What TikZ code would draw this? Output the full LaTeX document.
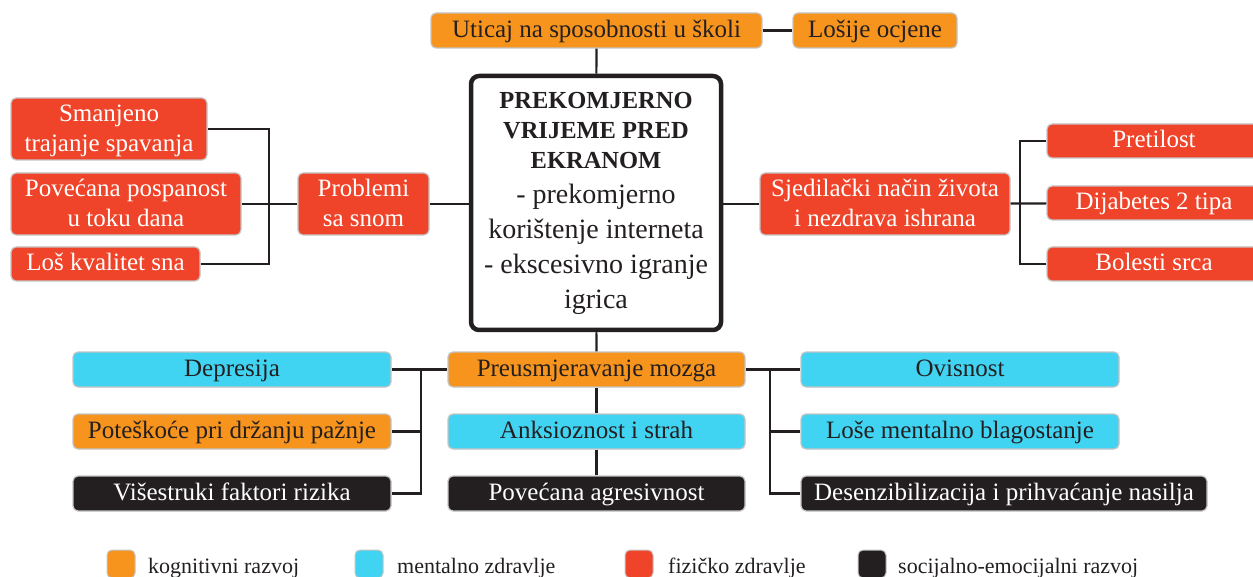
\documentclass[tikz,border=0pt]{standalone}
\usepackage{fontspec}
\setmainfont{Liberation Serif}
\usepackage{xcolor}
\definecolor{kogOrange}{HTML}{F7941D}
\definecolor{mentCyan}{HTML}{41D3F2}
\definecolor{fizRed}{HTML}{EF4429}
\definecolor{socBlack}{HTML}{231F20}
\definecolor{rimGray}{HTML}{C4C4C4}
\tikzset{
  box/.style={draw=rimGray, line width=1.2pt, rounded corners=5pt, align=center, inner sep=0pt, font=\fontsize{25}{30}\selectfont},
  flat/.style={text height=19pt, text depth=5.5pt},
  twoline/.style={text height=52pt, text depth=6pt},
  kog/.style={box, fill=kogOrange, text=socBlack},
  ment/.style={box, fill=mentCyan, text=socBlack},
  fiz/.style={box, fill=fizRed, text=white},
  soc/.style={box, fill=socBlack, text=white},
  core/.style={draw=socBlack, line width=4.5pt, rounded corners=8pt, fill=white, align=center, inner sep=0pt, text=socBlack, font=\fontsize{28}{35}\selectfont},
  link/.style={draw=socBlack, line width=2.2pt},
  swatch/.style={draw=rimGray, line width=1pt, rounded corners=5pt, minimum width=28pt, minimum height=28pt, inner sep=0pt},
  legendtext/.style={anchor=west, inner sep=0pt, text=socBlack, font=\fontsize{22}{26}\selectfont}
}

\begin{document}
\begin{tikzpicture}[x=1pt, y=-1pt]
            \useasboundingbox (0,0) rectangle (1253,577);
            \node[core, minimum width=250pt, minimum height=254pt] (ekran) at (596,203) {{\bfseries\fontsize{24.5}{29}\selectfont PREKOMJERNO}\\[-5pt]{\bfseries\fontsize{24.5}{29}\selectfont VRIJEME PRED}\\[-5pt]{\bfseries\fontsize{24.5}{29}\selectfont EKRANOM}\\- prekomjerno\\korištenje interneta\\- ekscesivno igranje\\igrica};
            \node[kog, flat, minimum width=331pt, minimum height=35pt] (uticaj) at (596.5,30.5) {Uticaj na sposobnosti u školi};
            \node[kog, flat, minimum width=164pt, minimum height=35pt] (ocjene) at (875,30.5) {Lošije ocjene};
            \node[fiz, twoline, minimum width=131pt, minimum height=62pt] (snom) at (363.5,204) {Problemi\\sa snom};
            \node[fiz, twoline, minimum width=196pt, minimum height=62pt] (trajanje) at (109,129) {Smanjeno\\trajanje spavanja};
            \node[fiz, twoline, minimum width=230pt, minimum height=62pt] (pospanost) at (126,204) {Povećana pospanost\\u toku dana};
            \node[fiz, flat, minimum width=189pt, minimum height=34pt] (kvalitet) at (105.5,264) {Loš kvalitet sna};
            \node[fiz, twoline, minimum width=250pt, minimum height=62pt] (ishrana) at (885,204) {Sjedilački način života\\i nezdrava ishrana};
            \node[fiz, flat, minimum width=214pt, minimum height=34pt] (pretilost) at (1154,141) {Pretilost};
            \node[fiz, flat, minimum width=214pt, minimum height=34pt] (dijabetes) at (1154,203) {Dijabetes 2 tipa};
            \node[fiz, flat, minimum width=214pt, minimum height=34pt] (srce) at (1154,264) {Bolesti srca};
            \node[kog, flat, minimum width=297pt, minimum height=35pt] (mozak) at (596.5,369.5) {Preusmjeravanje mozga};
            \node[ment, flat, minimum width=297pt, minimum height=35pt] (strah) at (596.5,431.5) {Anksioznost i strah};
            \node[soc, flat, minimum width=297pt, minimum height=35pt] (agresija) at (596.5,493.5) {Povećana agresivnost};
            \node[ment, flat, minimum width=318pt, minimum height=35pt] (depresija) at (232,369.5) {Depresija};
            \node[kog, flat, minimum width=318pt, minimum height=35pt] (paznja) at (232,431.5) {Poteškoće pri držanju pažnje};
            \node[soc, flat, minimum width=318pt, minimum height=35pt] (rizik) at (232,493.5) {Višestruki faktori rizika};
            \node[ment, flat, minimum width=318pt, minimum height=35pt] (ovisnost) at (960,369.5) {Ovisnost};
            \node[ment, flat, minimum width=318pt, minimum height=35pt] (blagostanje) at (960,431.5) {Loše mentalno blagostanje};
            \node[soc, flat, minimum width=406pt, minimum height=35pt] (nasilje) at (1004,493.5) {Desenzibilizacija i prihvaćanje nasilja};
            \coordinate (snomBus) at (269,204);
            \coordinate (ishranaBus) at (1020,204);
            \coordinate (lijeviBus) at (421,369.5);
            \coordinate (desniBus) at (770,369.5);
            \draw[link] (uticaj) -- (ekran);
            \draw[link] (uticaj) -- (ocjene);
            \draw[link] (snom) -- (snom -| ekran.west);
            \draw[link] (ishrana) -- (ishrana -| ekran.east);
            \draw[link] (pospanost) -- (snom);
            \draw[link] (trajanje.east) -| (snomBus);
            \draw[link] (kvalitet.east) -| (snomBus);
            \draw[link] (ishrana) -- (dijabetes);
            \draw[link] (pretilost.west) -| (ishranaBus);
            \draw[link] (srce.west) -| (ishranaBus);
            \draw[link] (ekran) -- (mozak);
            \draw[link] (mozak) -- (strah);
            \draw[link] (strah) -- (agresija);
            \draw[link] (depresija) -- (mozak);
            \draw[link] (paznja.east) -| (lijeviBus);
            \draw[link] (rizik.east) -| (lijeviBus);
            \draw[link] (mozak) -- (ovisnost);
            \draw[link] (blagostanje.west) -| (desniBus);
            \draw[link] (nasilje.west) -| (desniBus);
            \node[swatch, fill=kogOrange] (kogSwatch) at (121,564) {};
            \node[swatch, fill=mentCyan] (mentSwatch) at (369,564) {};
            \node[swatch, fill=fizRed] (fizSwatch) at (639,564) {};
            \node[swatch, fill=socBlack] (socSwatch) at (872,564) {};
            \node[legendtext] (kogText) at (148,568) {kognitivni razvoj};
            \node[legendtext] (mentText) at (397,568) {mentalno zdravlje};
            \node[legendtext] (fizText) at (668,568) {fizičko zdravlje};
            \node[legendtext] (socText) at (898,568) {socijalno-emocijalni razvoj};
        \end{tikzpicture}
\end{document}
